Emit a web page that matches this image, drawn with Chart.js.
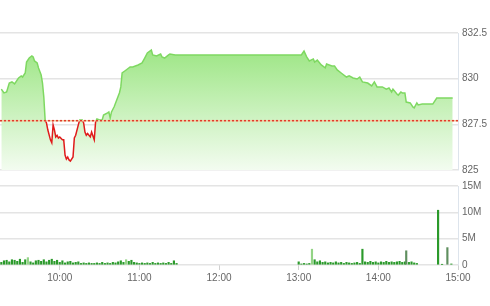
<!DOCTYPE html>
<html>
<head>
<meta charset="utf-8">
<script src="https://cdn.jsdelivr.net/npm/chart.js@4"></script>
<style>
body{margin:0;background:#fff;width:490px;height:306px;overflow:hidden;position:relative}
#price{position:absolute;left:0;top:0}
#vol{position:absolute;left:0;top:176px}
</style>
</head>
<body>
<canvas id="price" width="490" height="180"></canvas>
<canvas id="vol" width="490" height="130"></canvas>
<script>
// index level by time
var priceTimes = ['9:16','9:18','9:20','9:22','9:24','9:26','9:28','9:29','9:31','9:32','9:34','9:35','9:37','9:39','9:40','9:41','9:43','9:44','9:46','9:47','9:48','9:49','9:50','9:51','9:53','9:54','9:55','9:56','9:57','9:58','9:59','10:00','10:02','10:03','10:04','10:05','10:06','10:07','10:08','10:10','10:11','10:12','10:14','10:15','10:17','10:18','10:19','10:20','10:21','10:23','10:24','10:26','10:27','10:28','10:30','10:32','10:33','10:36','10:37','10:38','10:39','10:41','10:43','10:45','10:46','10:47','10:49','10:51','10:53','10:55','10:59','11:02','11:04','11:06','11:09','11:10','11:13','11:16','11:17','11:19','11:22','11:23','11:27','11:29','13:00','13:02','13:04','13:06','13:08','13:11','13:12','13:14','13:17','13:20','13:21','13:25','13:27','13:29','13:32','13:36','13:38','13:41','13:44','13:46','13:48','13:52','13:55','13:57','13:59','14:03','14:06','14:08','14:10','14:11','14:14','14:15','14:17','14:18','14:20','14:21','14:24','14:26','14:27','14:29','14:30','14:33','14:41','14:44','14:56'];
var priceValues = [829.43,829.22,829.27,829.76,829.82,829.71,829.93,830.04,830.15,830.09,830.31,830.91,831.13,831.24,831.19,830.97,830.86,830.59,830.2,829.76,829.0,827.74,827.58,827.2,826.65,826.49,827.47,827.2,826.81,826.9,826.75,826.81,826.65,826.65,825.82,825.6,825.71,825.55,825.49,825.71,826.75,826.9,827.47,827.74,827.74,827.58,827.08,826.9,827.0,826.81,827.08,826.65,827.63,827.8,827.74,827.74,828.01,828.13,828.18,827.85,828.18,828.46,828.84,829.23,829.55,830.31,830.42,830.53,830.64,830.64,830.75,830.86,831.13,831.41,831.57,831.3,831.24,831.35,831.19,831.13,831.3,831.35,831.3,831.3,831.3,831.3,831.51,831.19,830.97,831.08,830.91,831.02,830.75,830.59,830.8,830.69,830.69,830.48,830.31,830.09,830.15,830.04,829.98,830.09,829.82,829.76,829.6,829.82,829.55,829.55,829.43,829.49,829.27,829.43,829.16,829.1,829.27,829.22,829.22,828.72,828.67,828.45,828.4,828.67,828.56,828.61,828.61,828.94,828.94];
var refValue = 827.7;

// volume (millions)
var volTimes = ['9:16','9:18','9:20','9:22','9:24','9:26','9:28','9:30','9:32','9:34','9:36','9:38','9:40','9:42','9:44','9:46','9:48','9:50','9:52','9:54','9:56','9:58','10:00','10:02','10:04','10:06','10:08','10:10','10:12','10:14','10:16','10:18','10:20','10:22','10:24','10:26','10:28','10:30','10:32','10:34','10:36','10:38','10:40','10:42','10:44','10:46','10:48','10:50','10:52','10:54','10:56','10:58','11:00','11:02','11:04','11:06','11:08','11:10','11:12','11:14','11:16','11:18','11:20','11:22','11:24','11:26','11:28','13:00','13:02','13:04','13:06','13:08','13:10','13:12','13:14','13:16','13:18','13:20','13:22','13:24','13:26','13:28','13:30','13:32','13:34','13:36','13:38','13:40','13:42','13:44','13:46','13:48','13:50','13:52','13:54','13:56','13:58','14:00','14:02','14:04','14:06','14:08','14:10','14:12','14:14','14:16','14:18','14:20','14:21','14:23','14:25','14:27','14:29','14:45','14:48','14:52','14:55'];
var volValues = [0.5,0.8,0.9,0.6,1.0,0.9,0.7,1.1,0.5,1.0,1.4,0.6,0.4,0.8,0.9,0.7,1.0,0.6,0.9,1.1,0.7,0.9,0.5,0.8,0.4,0.6,0.7,0.4,0.5,0.6,0.3,0.4,0.3,0.4,0.3,0.3,0.4,0.3,0.5,0.3,0.4,0.3,0.5,0.4,0.6,0.8,0.5,1.0,0.7,0.9,0.5,0.4,0.3,0.4,0.3,0.4,0.3,0.5,0.3,0.4,0.3,0.4,0.3,0.5,0.3,0.8,0.3,0.6,0.2,0.3,0.2,0.3,3.0,1.0,0.6,0.8,0.5,0.6,0.4,0.5,0.4,0.6,0.4,0.5,0.3,0.5,0.4,0.3,0.4,0.5,0.3,3.0,0.6,0.5,0.7,0.5,0.6,0.4,0.6,0.5,0.7,0.5,0.6,0.5,0.6,0.7,0.5,0.6,2.7,0.5,0.6,0.4,0.3,10.4,0.1,3.3,0.2];

var hourTicks = [600,660,720,780,840,900];

var green = '#7ed861';
var red = '#e01b1b';
var lightBars = ['13:10','9:36','10:50'];
var grayBars = ['14:21','14:52'];

function toMin(s){ var p = s.split(':'); return +p[0]*60 + +p[1]; }
function fmt(m){ var h = Math.floor(m/60), mm = m%60; return (h<10?'0':'')+h+':'+(mm<10?'0':'')+mm; }

Chart.defaults.font.family = '"Liberation Sans", Arial, sans-serif';
Chart.defaults.font.size = 10;
Chart.defaults.color = '#666';

function lineColor(c){
  var chart = c.chart, a = chart.chartArea;
  if(!a) return green;
  var yr = chart.scales.y.getPixelForValue(refValue);
  var f = Math.min(1, Math.max(0, (yr - a.top)/(a.bottom - a.top)));
  var g = chart.ctx.createLinearGradient(0, a.top, 0, a.bottom);
  g.addColorStop(0, green); g.addColorStop(f, green);
  g.addColorStop(f, red); g.addColorStop(1, red);
  return g;
}
function fillColor(c){
  var a = c.chart.chartArea;
  if(!a) return '#c8f0b8';
  var g = c.chart.ctx.createLinearGradient(0, a.top, 0, a.bottom);
  g.addColorStop(0, '#92e377');
  g.addColorStop(1, '#f3fcf0');
  return g;
}

var refLine = {
  id: 'refLine',
  afterDatasetsDraw: function(chart){
    var a = chart.chartArea, y = chart.scales.y.getPixelForValue(refValue), ctx = chart.ctx;
    ctx.save();
    ctx.lineWidth = 1.5;
    ctx.strokeStyle = '#f2c9a0';
    ctx.beginPath(); ctx.moveTo(a.left, y); ctx.lineTo(a.right, y); ctx.stroke();
    ctx.setLineDash([2,2]);
    ctx.strokeStyle = '#e03a2a';
    ctx.beginPath(); ctx.moveTo(a.left, y); ctx.lineTo(a.right, y); ctx.stroke();
    ctx.restore();
  }
};

function fixWidth(axis){ axis.width = 32; }

new Chart(document.getElementById('price'), {
  type: 'line',
  data: {
    datasets: [{
      data: priceTimes.map(function(t,i){ return {x: toMin(t), y: priceValues[i]}; }),
      borderColor: lineColor,
      backgroundColor: fillColor,
      fill: 'start',
      borderWidth: 1.5,
      pointRadius: 0,
      tension: 0
    }]
  },
  options: {
    responsive: false,
    animation: false,
    layout: {padding: {top: 33, bottom: 10, left: 0, right: 0}},
    plugins: {legend: {display: false}, tooltip: {enabled: false}},
    scales: {
      x: {type: 'linear', min: 555, max: 900, display: false},
      y: {
        position: 'right', min: 825, max: 832.5,
        afterFit: fixWidth,
        ticks: {stepSize: 2.5, padding: 4},
        grid: {color: '#e4e4e4', lineWidth: 1.5, drawTicks: false},
        border: {display: true, color: '#dde4ec'}
      }
    }
  },
  plugins: [refLine]
});

new Chart(document.getElementById('vol'), {
  type: 'bar',
  data: {
    datasets: [{
      data: volTimes.map(function(t,i){ return {x: toMin(t), y: volValues[i]}; }),
      backgroundColor: volTimes.map(function(t){
        if(lightBars.indexOf(t) >= 0) return '#93d486';
        if(grayBars.indexOf(t) >= 0) return '#5f8f5f';
        return '#2b9a2b';
      }),
      barThickness: 1.5
    }]
  },
  options: {
    responsive: false,
    animation: false,
    layout: {padding: {top: 8, bottom: 20, left: 0, right: 0}},
    plugins: {legend: {display: false}, tooltip: {enabled: false}},
    scales: {
      x: {
        type: 'linear', min: 555, max: 900, offset: false,
        afterBuildTicks: function(axis){ axis.ticks = hourTicks.map(function(v){ return {value: v}; }); },
        ticks: {callback: function(v){ return fmt(v); }, maxRotation: 0, padding: 2},
        grid: {offset: false, drawOnChartArea: false, tickLength: 5, color: '#d0d0d0'},
        border: {display: false}
      },
      y: {
        position: 'right', min: 0, max: 15,
        afterFit: fixWidth,
        ticks: {stepSize: 5, padding: 4, callback: function(v){ return v === 0 ? '0' : v + 'M'; }},
        grid: {color: '#e4e4e4', lineWidth: 1.5, drawTicks: false},
        border: {display: true, color: '#dde4ec'}
      }
    }
  }
});
</script>
</body>
</html>
